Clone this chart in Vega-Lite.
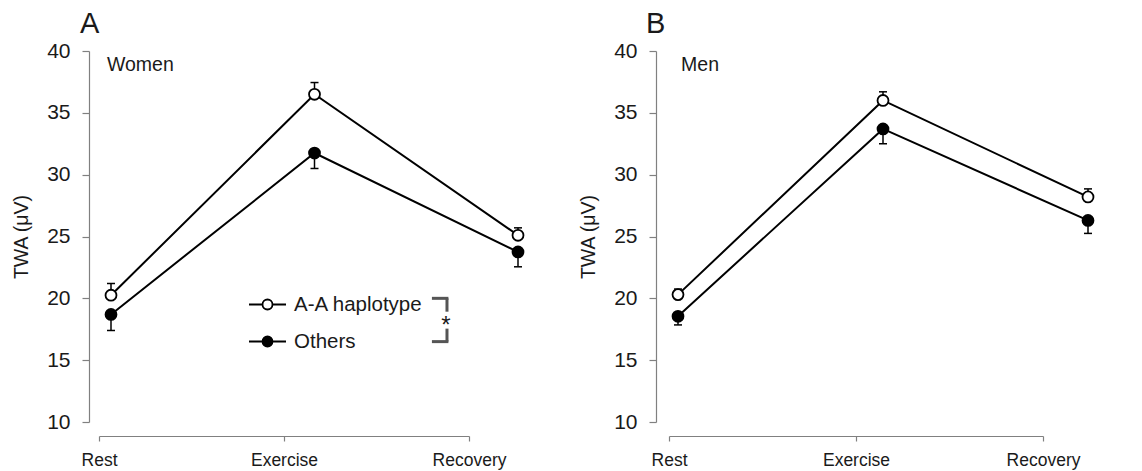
{
  "$schema": "https://vega.github.io/schema/vega-lite/v6.json",
  "padding": {"left": 11, "top": 10, "right": 5, "bottom": 5},
  "config": {
    "view": {"stroke": null},
    "font": "Liberation Sans",
    "axis": {"grid": false, "domainColor": "#808080", "tickColor": "#808080", "labelColor": "#1a1a1a", "titleColor": "#1a1a1a", "titleFontWeight": "normal", "domainWidth": 1.2, "tickWidth": 1.2},
    "title": {"fontWeight": "normal", "color": "#1a1a1a", "fontSize": 29, "anchor": "start", "frame": "group", "offset": 1}
  },
  "data": {"values": [
    {"sex": "Women", "group": "A-A haplotype", "phase": "Rest", "step": 0, "mean": 20.25, "err": 21.2},
    {"sex": "Women", "group": "A-A haplotype", "phase": "Exercise", "step": 1, "mean": 36.5, "err": 37.45},
    {"sex": "Women", "group": "A-A haplotype", "phase": "Recovery", "step": 2, "mean": 25.1, "err": 25.7},
    {"sex": "Women", "group": "Others", "phase": "Rest", "step": 0, "mean": 18.7, "err": 17.4},
    {"sex": "Women", "group": "Others", "phase": "Exercise", "step": 1, "mean": 31.75, "err": 30.5},
    {"sex": "Women", "group": "Others", "phase": "Recovery", "step": 2, "mean": 23.75, "err": 22.55},
    {"sex": "Men", "group": "A-A haplotype", "phase": "Rest", "step": 0, "mean": 20.3, "err": 20.75},
    {"sex": "Men", "group": "A-A haplotype", "phase": "Exercise", "step": 1, "mean": 36.0, "err": 36.7},
    {"sex": "Men", "group": "A-A haplotype", "phase": "Recovery", "step": 2, "mean": 28.2, "err": 28.85},
    {"sex": "Men", "group": "Others", "phase": "Rest", "step": 0, "mean": 18.55, "err": 17.85},
    {"sex": "Men", "group": "Others", "phase": "Exercise", "step": 1, "mean": 33.7, "err": 32.5},
    {"sex": "Men", "group": "Others", "phase": "Recovery", "step": 2, "mean": 26.3, "err": 25.25}
  ]},
  "spacing": 44,
  "resolve": {"legend": {"fill": "independent"}},
  "hconcat": [
    {
      "width": 445, "height": 371,
      "title": {"text": "A", "dx": -9},
      "transform": [{"filter": "datum.sex === 'Women'"}],
      "resolve": {"scale": {"x": "independent"}},
      "layer": [
        {
          "mark": {"type": "point", "opacity": 0},
          "encoding": {
            "x": {"field": "phase", "type": "ordinal", "sort": ["Rest", "Exercise", "Recovery"],
              "scale": {"type": "point", "range": [10, 380], "padding": 0},
              "axis": {"title": null, "orient": "bottom", "offset": 14, "labelAngle": 0, "tickSize": 5, "labelPadding": 10, "labelFontSize": 17.5}}
          }
        },
        {
          "encoding": {
            "x": {"field": "step", "type": "quantitative", "scale": {"domain": [0, 2], "range": [22, 429], "nice": false, "zero": false}, "axis": null},
            "y": {"field": "mean", "type": "quantitative", "scale": {"domain": [10, 40], "nice": false, "zero": false},
              "axis": {"title": "TWA (μV)", "values": [10, 15, 20, 25, 30, 35, 40], "tickSize": 7, "labelPadding": 12, "titlePadding": 15, "labelFontSize": 21, "titleFontSize": 19.5}}
          },
          "layer": [
            {"mark": {"type": "line", "color": "black", "strokeWidth": 2}, "encoding": {"detail": {"field": "group"}}},
            {"mark": {"type": "rule", "color": "black", "strokeWidth": 1.5}, "encoding": {"y2": {"field": "err"}}},
            {"mark": {"type": "point", "shape": "M-1,0L1,0", "size": 64, "filled": false, "stroke": "black", "strokeWidth": 1.5, "opacity": 1}, "encoding": {"y": {"field": "err", "type": "quantitative"}}},
            {"mark": {"type": "point", "filled": true, "size": 120, "stroke": "black", "strokeWidth": 1.8, "opacity": 1},
              "encoding": {"fill": {"field": "group", "type": "nominal",
                "scale": {"domain": ["A-A haplotype", "Others"], "range": ["white", "black"]},
                "legend": {"title": null, "orient": "none", "legendX": 159, "legendY": 234,
                  "symbolType": "M-1,0L-0.27,0M0.27,0L1,0M0.27,0A0.27,0.27,0,1,1,-0.27,0A0.27,0.27,0,1,1,0.27,0Z",
                  "symbolSize": 1369, "symbolStrokeColor": "black", "symbolStrokeWidth": 1.8,
                  "labelFontSize": 20.5, "labelOffset": 7, "rowPadding": 7, "padding": 0, "labelColor": "#1a1a1a"}}}},
            {"transform": [{"filter": "datum.group === 'Others' && datum.step === 0"}],
              "mark": {"type": "text", "text": "Women", "align": "left", "baseline": "alphabetic", "fontSize": 19.5, "color": "#1a1a1a"},
              "encoding": {"x": {"datum": -0.02}, "y": {"datum": 38.4}}},
            {"transform": [{"filter": "datum.group === 'Others' && datum.step === 0"}],
              "mark": {"type": "rule", "color": "#555555", "strokeWidth": 3},
              "encoding": {"x": {"datum": 1.577}, "x2": {"datum": 1.658}, "y": {"datum": 20.0}}},
            {"transform": [{"filter": "datum.group === 'Others' && datum.step === 0"}],
              "mark": {"type": "rule", "color": "#555555", "strokeWidth": 3},
              "encoding": {"x": {"datum": 1.577}, "x2": {"datum": 1.658}, "y": {"datum": 16.5}}},
            {"transform": [{"filter": "datum.group === 'Others' && datum.step === 0"}],
              "mark": {"type": "rule", "color": "#555555", "strokeWidth": 3},
              "encoding": {"x": {"datum": 1.651}, "y": {"datum": 20.0}, "y2": {"datum": 18.92}}},
            {"transform": [{"filter": "datum.group === 'Others' && datum.step === 0"}],
              "mark": {"type": "rule", "color": "#555555", "strokeWidth": 3},
              "encoding": {"x": {"datum": 1.651}, "y": {"datum": 17.55}, "y2": {"datum": 16.5}}},
            {"transform": [{"filter": "datum.group === 'Others' && datum.step === 0"}],
              "mark": {"type": "text", "text": "*", "align": "center", "baseline": "alphabetic", "fontSize": 24, "color": "#1a1a1a"},
              "encoding": {"x": {"datum": 1.646}, "y": {"datum": 17.2}}}
          ]
        }
      ]
    },
    {
      "width": 445, "height": 371,
      "title": {"text": "B", "dx": -10},
      "transform": [{"filter": "datum.sex === 'Men'"}],
      "resolve": {"scale": {"x": "independent"}},
      "layer": [
        {
          "mark": {"type": "point", "opacity": 0},
          "encoding": {
            "x": {"field": "phase", "type": "ordinal", "sort": ["Rest", "Exercise", "Recovery"],
              "scale": {"type": "point", "range": [13, 387], "padding": 0},
              "axis": {"title": null, "orient": "bottom", "offset": 14, "labelAngle": 0, "tickSize": 5, "labelPadding": 10, "labelFontSize": 17.5}}
          }
        },
        {
          "encoding": {
            "x": {"field": "step", "type": "quantitative", "scale": {"domain": [0, 2], "range": [22, 432], "nice": false, "zero": false}, "axis": null},
            "y": {"field": "mean", "type": "quantitative", "scale": {"domain": [10, 40], "nice": false, "zero": false},
              "axis": {"title": "TWA (μV)", "values": [10, 15, 20, 25, 30, 35, 40], "tickSize": 7, "labelPadding": 12, "titlePadding": 15, "labelFontSize": 21, "titleFontSize": 19.5}}
          },
          "layer": [
            {"mark": {"type": "line", "color": "black", "strokeWidth": 2}, "encoding": {"detail": {"field": "group"}}},
            {"mark": {"type": "rule", "color": "black", "strokeWidth": 1.5}, "encoding": {"y2": {"field": "err"}}},
            {"mark": {"type": "point", "shape": "M-1,0L1,0", "size": 64, "filled": false, "stroke": "black", "strokeWidth": 1.5, "opacity": 1}, "encoding": {"y": {"field": "err", "type": "quantitative"}}},
            {"mark": {"type": "point", "filled": true, "size": 120, "stroke": "black", "strokeWidth": 1.8, "opacity": 1},
              "encoding": {"fill": {"field": "group", "type": "nominal",
                "scale": {"domain": ["A-A haplotype", "Others"], "range": ["white", "black"]}, "legend": null}}},
            {"transform": [{"filter": "datum.group === 'Others' && datum.step === 0"}],
              "mark": {"type": "text", "text": "Men", "align": "left", "baseline": "alphabetic", "fontSize": 19.5, "color": "#1a1a1a"},
              "encoding": {"x": {"datum": 0.015}, "y": {"datum": 38.4}}}
          ]
        }
      ]
    }
  ]
}
